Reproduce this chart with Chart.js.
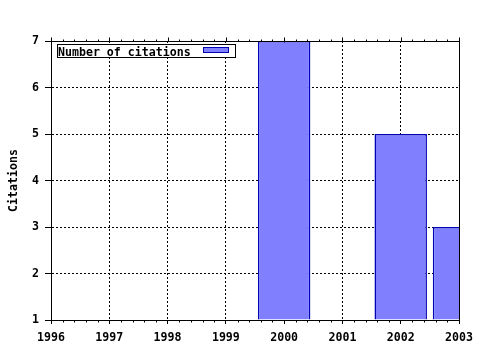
<!DOCTYPE html>
<html>
<head>
<meta charset="utf-8">
<script src="https://cdn.jsdelivr.net/npm/chart.js@4/dist/chart.umd.min.js"></script>
<style>
  html, body { margin: 0; padding: 0; background: #fff; }
  canvas { display: block; }
</style>
</head>
<body>
<canvas id="c" width="480" height="350"></canvas>
<script>
// ---- data ----
const years = [2000, 2002, 2003];
const citations = [7, 5, 3];
const seriesLabel = 'Number of citations';
const yTitle = 'Citations';
const xRange = [1996, 2003];
const yRange = [1, 7];

const FONT = { family: '"DejaVu Sans Mono", monospace', size: 11.6, weight: 'bold' };
const FILL = '#8080ff';
const EDGE = '#0000b4';

const framePlugin = {
  id: 'frame',
  afterDatasetsDraw(chart) {
    const { ctx, chartArea: a } = chart;
    ctx.save();
    ctx.strokeStyle = '#000';
    ctx.lineWidth = 1;
    ctx.setLineDash([]);
    const l = Math.round(a.left) + 0.5, t = Math.round(a.top) + 0.5;
    const r = Math.round(a.right) + 0.5, b = Math.round(a.bottom) + 0.5;
    ctx.beginPath();
    ctx.moveTo(l, b); ctx.lineTo(l, t); ctx.lineTo(r, t); ctx.lineTo(r, b); ctx.lineTo(l, b);
    ctx.stroke();
    // minor ticks (bottom, outward) and mirrored ticks on top
    const xs = chart.scales.x;
    ctx.beginPath();
    for (let k = xRange[0] * 5; k <= xRange[1] * 5; k++) {
      const v = k / 5;
      const px = Math.round(xs.getPixelForValue(v)) + 0.5;
      const major = k % 5 === 0;
      if (!major) {
        ctx.moveTo(px, b); ctx.lineTo(px, b + 2);
        ctx.moveTo(px, t); ctx.lineTo(px, t - 2);
      } else {
        ctx.moveTo(px, t); ctx.lineTo(px, t - 4);
      }
    }
    ctx.stroke();
    ctx.restore();
  },
  afterDraw(chart) {
    // legend box inside the plot, top-left
    const { ctx } = chart;
    const ds = chart.data.datasets[0];
    ctx.save();
    ctx.fillStyle = '#fff';
    ctx.fillRect(57, 44, 179, 14);
    ctx.strokeStyle = '#000';
    ctx.lineWidth = 1;
    ctx.strokeRect(57.5, 44.5, 178, 13);
    ctx.fillStyle = '#000';
    ctx.font = `${FONT.weight} ${FONT.size}px ${FONT.family}`;
    ctx.textBaseline = 'alphabetic';
    ctx.textAlign = 'left';
    ctx.fillText(ds.label, 58, 56);
    ctx.fillStyle = ds.backgroundColor;
    ctx.fillRect(203, 47, 26, 6);
    ctx.strokeStyle = ds.borderColor;
    ctx.strokeRect(203.5, 47.5, 25, 5);
    ctx.restore();
  }
};

new Chart(document.getElementById('c'), {
  type: 'bar',
  data: {
    datasets: [{
      label: seriesLabel,
      data: years.map((x, i) => ({ x: x, y: citations[i] })),
      backgroundColor: FILL,
      borderColor: EDGE,
      borderWidth: 1.5,
      borderSkipped: 'start',
      base: yRange[0],
      categoryPercentage: 1,
      barPercentage: 0.9,
      clip: 0
    }]
  },
  options: {
    responsive: false,
    devicePixelRatio: 1,
    animation: false,
    layout: { padding: { left: 0, right: 21, top: 41, bottom: 0 } },
    plugins: { legend: { display: false }, tooltip: { enabled: false } },
    scales: {
      x: {
        type: 'linear',
        min: xRange[0],
        max: xRange[1],
        offset: false,
        grid: { offset: false, color: '#000', lineWidth: 1, tickLength: 4, tickColor: '#000', tickWidth: 1 },
        border: { display: true, color: '#000', width: 1, dash: [2, 2] },
        ticks: {
          stepSize: 1, autoSkip: false, maxRotation: 0, padding: 7,
          color: '#000', font: FONT,
          callback: v => String(Math.round(v))
        },
        afterFit: s => { s.height = 30; }
      },
      y: {
        min: yRange[0],
        max: yRange[1],
        grid: { color: '#000', lineWidth: 1, tickLength: 6, tickColor: '#000', tickWidth: 1 },
        border: { display: true, color: '#000', width: 1, dash: [2, 2] },
        ticks: { stepSize: 1, padding: 6, color: '#000', font: FONT },
        title: { display: true, text: yTitle, color: '#000', font: FONT, padding: { top: 7, bottom: 0 } },
        afterFit: s => { s.width = 51; }
      }
    }
  },
  plugins: [framePlugin]
});
</script>
</body>
</html>
